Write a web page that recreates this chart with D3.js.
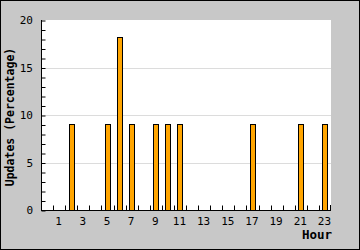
<!DOCTYPE html>
<html>
<head>
<meta charset="utf-8">
<script src="https://cdn.jsdelivr.net/npm/d3@7"></script>
<style>
  html, body { margin: 0; padding: 0; background: #fff; }
  svg { display: block; }
  text { font-family: "DejaVu Sans Mono", monospace; }
</style>
</head>
<body>
<div id="chart"></div>
<script>
// datos
var hours = d3.range(0, 24);
var updates = [0, 0, 9.09, 0, 0, 9.09, 18.18, 9.09, 0, 9.09, 9.09, 9.09,
               0, 0, 0, 0, 0, 9.09, 0, 0, 0, 9.09, 0, 9.09];
var yTicks = [0, 5, 10, 15, 20];
var xLabels = [1, 3, 5, 7, 9, 11, 13, 15, 17, 19, 21, 23];

var width = 360, height = 250;
var plotLeft = 41, plotRight = 331, plotTop = 20, plotBottom = 210;

var svg = d3.select("#chart").append("svg")
    .attr("width", width)
    .attr("height", height);

// fondo y borde
svg.append("rect")
    .attr("x", 0.5).attr("y", 0.5)
    .attr("width", width - 1).attr("height", height - 1)
    .attr("fill", "#c8c8c8")
    .attr("stroke", "#000");

svg.append("rect")
    .attr("x", plotLeft).attr("y", plotTop)
    .attr("width", plotRight - plotLeft).attr("height", plotBottom - plotTop)
    .attr("fill", "#fff");

// escalas
var x = d3.scaleBand()
    .domain(hours)
    .range([plotLeft, plotRight])
    .padding(0);

var y = d3.scaleLinear()
    .domain([0, 20])
    .range([plotBottom, plotTop]);

// grid
svg.selectAll(".grid")
    .data(yTicks.filter(function(d) { return d > 0 && d < 20; }))
    .enter().append("line")
    .attr("x1", plotLeft).attr("x2", plotRight)
    .attr("y1", function(d) { return Math.round(y(d)) + 0.5; })
    .attr("y2", function(d) { return Math.round(y(d)) + 0.5; })
    .attr("stroke", "#dcdcdc");

// barras
var bw = x.bandwidth() * 0.42;
svg.selectAll(".bar")
    .data(hours.filter(function(h) { return updates[h] > 0; }))
    .enter().append("rect")
    .attr("class", "bar")
    .attr("x", function(h) { return Math.round(x(h) + x.bandwidth() / 2 - bw / 2) + 0.5; })
    .attr("y", function(h) { return Math.round(y(updates[h])) + 0.5; })
    .attr("width", Math.round(bw))
    .attr("height", function(h) { return Math.round(y(0)) - Math.round(y(updates[h])); })
    .attr("fill", "#ffa500")
    .attr("stroke", "#000");

// eje y
var yAxis = d3.axisRight(y)
    .ticks(20)
    .tickSize(4)
    .tickFormat("");
svg.append("g")
    .attr("transform", "translate(" + (plotLeft + 0.5) + ",0.5)")
    .call(yAxis)
    .call(function(g) { g.select(".domain").remove(); });

svg.append("line")
    .attr("x1", plotLeft + 0.5).attr("x2", plotLeft + 0.5)
    .attr("y1", plotTop).attr("y2", plotBottom + 1)
    .attr("stroke", "#000");

svg.selectAll(".ylab")
    .data(yTicks)
    .enter().append("text")
    .attr("x", 33)
    .attr("y", function(d) { return y(d) + 4; })
    .attr("text-anchor", "end")
    .attr("font-size", 11)
    .text(function(d) { return d; });

// eje x
var xAxis = d3.axisTop(x)
    .tickValues(hours.slice(1))
    .tickSize(5)
    .tickFormat("")
    .offset(0);
var gx = svg.append("g")
    .attr("transform", "translate(0," + (plotBottom + 0.5) + ")")
    .call(xAxis)
    .call(function(g) { g.select(".domain").remove(); });
gx.selectAll(".tick")
    .attr("transform", function(h) { return "translate(" + (Math.round(x(h)) + 0.5) + ",0)"; });
svg.append("line")
    .attr("x1", plotRight - 0.5).attr("x2", plotRight - 0.5)
    .attr("y1", plotBottom - 5).attr("y2", plotBottom)
    .attr("stroke", "#000");

svg.append("line")
    .attr("x1", plotLeft).attr("x2", plotRight)
    .attr("y1", plotBottom + 0.5).attr("y2", plotBottom + 0.5)
    .attr("stroke", "#000");

svg.selectAll(".xlab")
    .data(xLabels)
    .enter().append("text")
    .attr("x", function(h) { return x(h) + x.bandwidth() / 2 - 0.5; })
    .attr("y", 225)
    .attr("text-anchor", "middle")
    .attr("font-size", 11)
    .text(function(d) { return d; });

// títulos
svg.append("text")
    .attr("x", 332)
    .attr("y", 239)
    .attr("text-anchor", "end")
    .attr("font-size", 12.5)
    .attr("font-weight", "bold")
    .text("Hour");

svg.append("text")
    .attr("transform", "translate(14,117) rotate(-90)")
    .attr("text-anchor", "middle")
    .attr("font-size", 11.5)
    .attr("font-weight", "bold")
    .text("Updates (Percentage)");
</script>
</body>
</html>
